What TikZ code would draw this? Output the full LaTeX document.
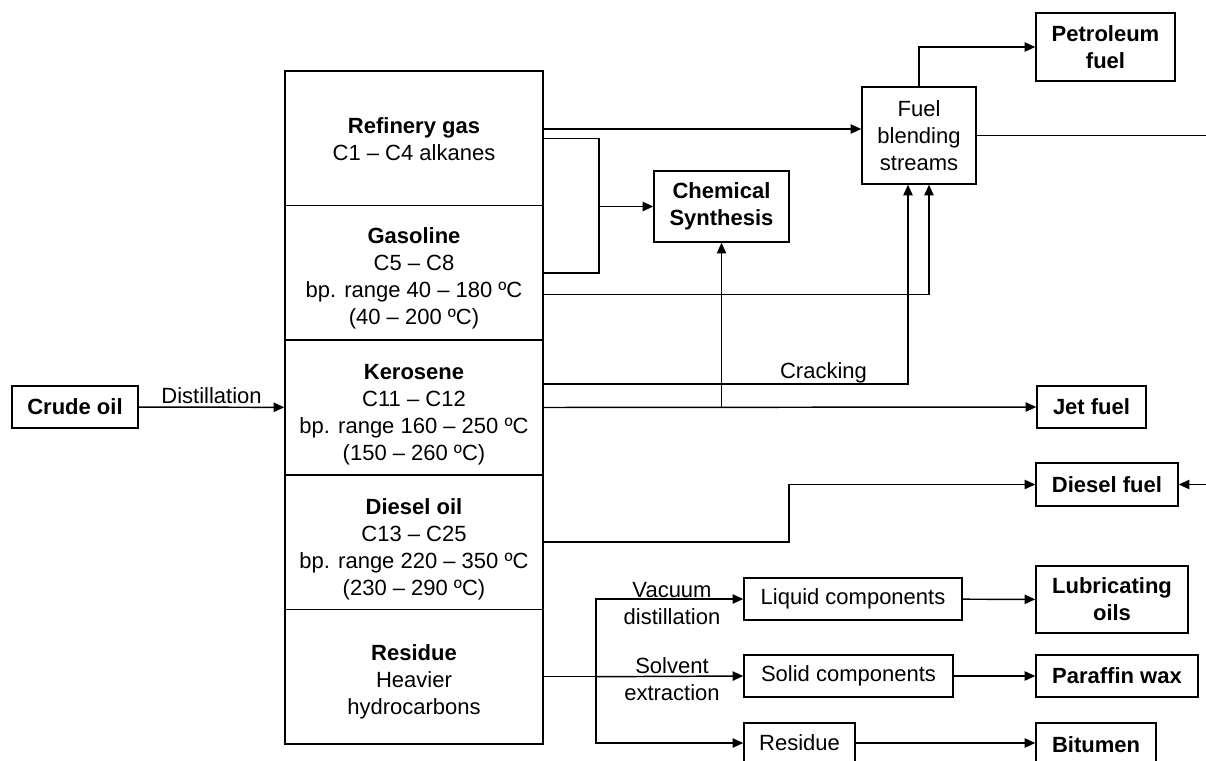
\documentclass[tikz,border=0pt]{standalone}
\usepackage{fontspec}
\setmainfont{Liberation Sans}
\usetikzlibrary{arrows.meta}
\begin{document}
\begin{tikzpicture}[x=0.75pt,y=-0.75pt,
  every node/.style={font=\fontsize{16.5pt}{20.25pt}\selectfont},
  box/.style={draw,line width=1.1pt,inner sep=0pt,align=center},
  sz/.style 2 args={minimum width=#1*0.75pt,minimum height=#2*0.75pt},
  conn/.style={line width=1.1pt},
  arr/.style={line width=1.1pt,-{Triangle[length=8pt,width=7pt]}},
  lbl/.style={align=center,inner sep=1pt}]
\useasboundingbox (0,0) rectangle (1206,760);
\fill[white] (0,0) rectangle (1206,760);

% distillation column
\node[box,sz={258}{134.6}] (col1) at (414,138.3) {};
\node[box,sz={258}{134.6}] (col2) at (414,272.9) {};
\node[box,sz={258}{134.6}] (col3) at (414,407.5) {};
\node[box,sz={258}{134.6}] (col4) at (414,542.1) {};
\node[box,sz={258}{134.6}] (col5) at (414,676.7) {};
\node[lbl] (t1) at (414,139.5) {\textbf{Refinery gas}\\C1 – C4 alkanes};
\node[lbl] (t2) at (414,278.4) {\textbf{Gasoline}\\C5 – C8\\bp. range 40 – 180 ºC\\(40 – 200 ºC)};
\node[lbl] (t3) at (414,414.4) {\textbf{Kerosene}\\C11 – C12\\bp. range 160 – 250 ºC\\(150 – 260 ºC)};
\node[lbl] (t4) at (414,549) {\textbf{Diesel oil}\\C13 – C25\\bp. range 220 – 350 ºC\\(230 – 290 ºC)};
\node[lbl] (t5) at (414,681.5) {\textbf{Residue}\\Heavier\\hydrocarbons};

% other boxes
\node[box,sz={126}{42}] (crude) at (75,407) {\textbf{Crude oil}};
\node[box,sz={114}{97}] (fbs) at (919,135.5) {Fuel\\blending\\streams};
\node[box,sz={139}{68}] (pet) at (1105.5,47) {\textbf{Petroleum}\\\textbf{fuel}};
\node[box,sz={135}{71}] (chem) at (721.5,206.5) {\textbf{Chemical}\\\textbf{Synthesis}};
\node[box,sz={109}{42}] (jet) at (1091.5,407) {\textbf{Jet fuel}};
\node[box,sz={142}{43}] (dfuel) at (1107,484.5) {\textbf{Diesel fuel}};
\node[box,sz={218}{42}] (liq) at (853,599) {Liquid components};
\node[box,sz={209}{42}] (sol) at (848.5,676) {Solid components};
\node[box,sz={111}{40}] (res2) at (799.5,743) {Residue};
\node[box,sz={152}{67}] (lub) at (1112,599.5) {\textbf{Lubricating}\\\textbf{oils}};
\node[box,sz={162}{42}] (par) at (1117,676) {\textbf{Paraffin wax}};
\node[box,sz={120}{44}] (bit) at (1096,745) {\textbf{Bitumen}};

% helper coordinates
\coordinate (gasin) at ([yshift=4.875pt]fbs.west);
\coordinate (fin1) at ([xshift=-8.25pt]fbs.south);
\coordinate (fin2) at ([xshift=7.5pt]fbs.south);
\coordinate (g2) at ([yshift=-16.35pt]col2.east);
\coordinate (k1) at ([yshift=17.6pt]col3.east);
\coordinate (brk) at (599,0);
\coordinate (dbend) at (789,0);
\coordinate (rj) at (596,0);
\coordinate (edgeR) at (1206,0);

% connectors
\draw[arr] (crude) -- node[above,inner sep=2pt]{Distillation} (col3);
\draw[arr] (col1.east |- gasin) -- (gasin);
\draw[conn] (col1.east) -| (brk |- chem.west) |- (col2.east);
\draw[arr] (brk |- chem.west) -- (chem.west);
\draw[arr] (g2) -| (fin2);
\draw[arr] (k1) -| node[above,pos=0.384,inner sep=0pt]{Cracking} (fin1);
\draw[arr] (col3.east) -- (jet.west);
\draw[arr] (col3.east -| chem.south) -- (chem.south);
\draw[arr] (fbs.north) |- (pet.west);
\draw[conn] (fbs.east) -- (fbs.east -| edgeR);
\draw[arr] (dfuel.east -| edgeR) -- (dfuel.east);
\draw[arr] (col4.east) -| (dbend |- dfuel.west) -- (dfuel.west);
\draw[conn] (col5.east) -- (col5.east -| rj);
\draw[arr] (col5.east -| rj) |- (liq.west);
\draw[arr] (col5.east -| rj) -- (sol.west);
\draw[arr] (col5.east -| rj) |- (res2.west);
\draw[arr] (liq) -- (lub);
\draw[arr] (sol) -- (par);
\draw[arr] (res2) -- (res2 -| bit.west);

% labels
\node[lbl] (lvac) at (672,604) {Vacuum\\distillation};
\node[lbl] (lsol) at (672,679.5) {Solvent\\extraction};
\end{tikzpicture}
\end{document}
